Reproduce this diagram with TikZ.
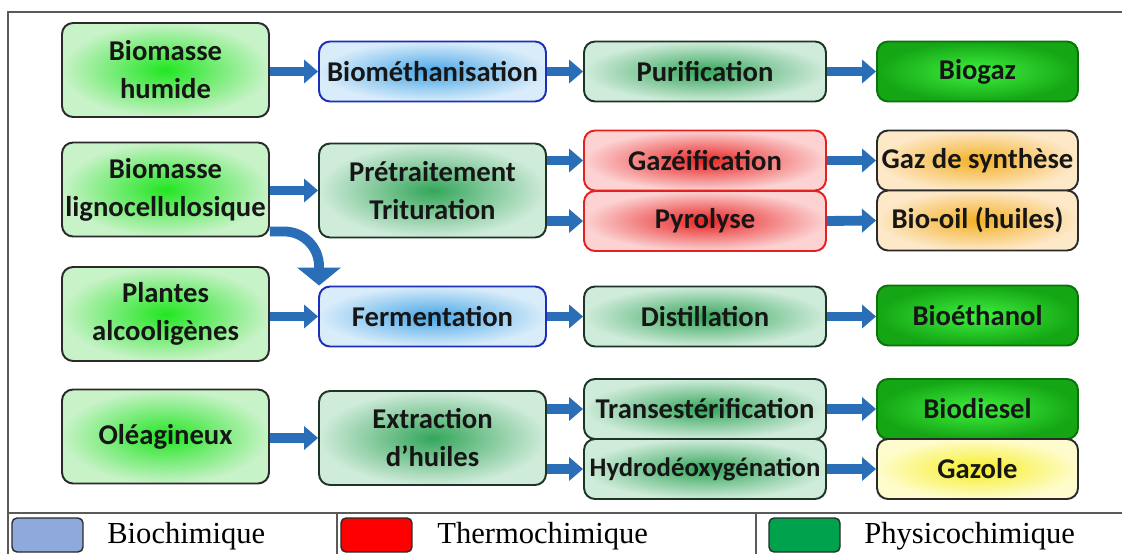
\documentclass[tikz,border=0pt]{standalone}
\usepackage{fontspec}
\setmainfont{Liberation Serif}
\newfontfamily\boxfont{Carlito}
\usetikzlibrary{arrows.meta}
\definecolor{flowblue}{HTML}{2A6EB8}
\definecolor{edgedark}{HTML}{2A2A2A}
\definecolor{txtdark}{HTML}{161616}
\definecolor{srcout}{HTML}{C8F2C8}
\definecolor{srcin}{HTML}{22E622}
\definecolor{bioout}{HTML}{D8ECFA}
\definecolor{bioin}{HTML}{49A6E6}
\definecolor{bioedge}{HTML}{1B2FB8}
\definecolor{physout}{HTML}{CFEBDA}
\definecolor{physin}{HTML}{34A65A}
\definecolor{physedge}{HTML}{1D3526}
\definecolor{thermout}{HTML}{FCD2D2}
\definecolor{thermin}{HTML}{E82424}
\definecolor{thermedge}{HTML}{E42020}
\definecolor{oilout}{HTML}{FDE8C8}
\definecolor{oilin}{HTML}{F4B024}
\definecolor{fuelout}{HTML}{14A614}
\definecolor{fuelin}{HTML}{40F040}
\definecolor{fueledge}{HTML}{0C720C}
\definecolor{lemonout}{HTML}{FEFCCC}
\definecolor{lemonin}{HTML}{F6EE24}
\definecolor{framegray}{HTML}{5A5A5A}
\definecolor{legblue}{HTML}{8EA9DB}
\definecolor{legred}{HTML}{FF0000}
\definecolor{leggreen}{HTML}{00A24E}

\tikzset{
  box/.style={draw, rounded corners=0.22cm, line width=1.1pt, align=center,
    inner sep=0pt, text=txtdark,
    font=\boxfont\bfseries\fontsize{16.3}{21.6}\selectfont},
  tall/.style={minimum height=1.88cm},
  short/.style={minimum height=1.2cm},
  colA/.style={minimum width=4.14cm},
  colB/.style={minimum width=4.54cm},
  colC/.style={minimum width=4.84cm},
  colD/.style={minimum width=4.02cm},
  srcbox/.style={box, draw=edgedark, inner color=srcin, outer color=srcout},
  biobox/.style={box, draw=bioedge, inner color=bioin, outer color=bioout},
  physbox/.style={box, draw=physedge, inner color=physin, outer color=physout},
  thermbox/.style={box, draw=thermedge, inner color=thermin, outer color=thermout},
  oilbox/.style={box, draw=edgedark, inner color=oilin, outer color=oilout},
  fuelbox/.style={box, draw=fueledge, inner color=fuelin, outer color=fuelout},
  lemonbox/.style={box, draw=edgedark, inner color=lemonin, outer color=lemonout},
  flow/.style={draw=flowblue, line width=5.6pt,
    -{Triangle[length=0.28cm, width=0.46cm]}},
  bendflow/.style={draw=flowblue, line width=5.6pt, rounded corners=0.7cm,
    -{Triangle[length=0.36cm, width=0.86cm]}},
  frameline/.style={draw=framegray, line width=0.9pt},
  swatch/.style={draw=edgedark, line width=0.8pt, rounded corners=0.1cm,
    minimum width=1.42cm, minimum height=0.68cm, inner sep=0pt},
  keytext/.style={font=\fontsize{17.4}{20}\selectfont, inner sep=0pt, text=black}
}

\begin{document}
\begin{tikzpicture}[x=0.02cm, y=-0.02cm]
\useasboundingbox (0,0) rectangle (1122,554);
\fill[white] (0,0) rectangle (1122,554);

% frame and legend rule
\draw[frameline] (1122,12) -- (8,12) -- (8,554);
\draw[frameline] (8,513) -- (1122,513);
\draw[frameline] (337,513) -- (337,554);
\draw[frameline] (756,513) -- (756,554);

% --- biomasse humide ---
\node[srcbox, colA, tall] (humide) at (165.5,70) {Biomasse\\humide};
\node[biobox, colB, short] (methan) at (432.5,71.5) {Biométhanisation};
\node[physbox, colC, short] (purif) at (705,71.5) {Purification};
\node[fuelbox, colD, short] (biogaz) at (977.5,71.5) {Biogaz};

% --- biomasse lignocellulosique ---
\node[srcbox, colA, tall] (ligno) at (165.5,189.5) {Biomasse\\lignocellulosique};
\node[physbox, colB, tall] (pretr) at (432.5,190.5) {Prétraitement\\Trituration};
\node[thermbox, colC, short] (gazeif) at (705,160.5) {Gazéification};
\node[thermbox, colC, short] (pyro) at (705,221) {Pyrolyse};
\node[oilbox, colD, short] (syngas) at (977.5,160.5) {Gaz de synthèse};
\node[oilbox, colD, short] (biooil) at (977.5,220.5) {Bio-oil (huiles)};

% --- plantes alcooligenes ---
\node[srcbox, colA, tall] (plantes) at (165.5,314) {Plantes\\alcooligènes};
\node[biobox, colB, short] (ferm) at (432.5,316.5) {Fermentation};
\node[physbox, colC, short] (distil) at (705,316.5) {Distillation};
\node[fuelbox, colD, short] (ethanol) at (977.5,315.5) {Bioéthanol};

% --- oleagineux ---
\node[srcbox, colA, tall] (oleag) at (165.5,436.5) {Oléagineux};
\node[physbox, colB, tall] (extr) at (432.5,438) {Extraction\\d’huiles};
\node[physbox, colC, short] (transest) at (705,409) {Transestérification};
\node[physbox, colC, short, font=\boxfont\bfseries\fontsize{15.2}{20}\selectfont] (hydro) at (705,469) {Hydrodéoxygénation};
\node[fuelbox, colD, short] (diesel) at (977.5,409) {Biodiesel};
\node[lemonbox, colD, short] (gazole) at (977.5,469) {Gazole};

% arrows
\draw[flow] (humide.east |- methan) -- (methan.west);
\draw[flow] (methan.east) -- (purif.west);
\draw[flow] (purif.east) -- (biogaz.west);
\draw[flow] (ligno.east |- pretr) -- (pretr.west);
\draw[flow] (pretr.east |- gazeif) -- (gazeif.west);
\draw[flow] (pretr.east |- pyro) -- (pyro.west);
\draw[flow] (gazeif.east) -- (syngas.west);
\draw[flow] (pyro.east) -- (biooil.west);
\draw[bendflow] ([yshift=0.12cm]ligno.south east) -| ([xshift=0.02cm]ferm.north west);
\draw[flow] (plantes.east |- ferm) -- (ferm.west);
\draw[flow] (ferm.east) -- (distil.west);
\draw[flow] (distil.east) -- (distil.east -| ethanol.west);
\draw[flow] (oleag.east |- extr) -- (extr.west);
\draw[flow] (extr.east |- transest) -- (transest.west);
\draw[flow] (extr.east |- hydro) -- (hydro.west);
\draw[flow] (transest.east) -- (diesel.west);
\draw[flow] (hydro.east) -- (gazole.west);

% legend
\node[swatch, fill=legblue] (keybio) at (47.5,535) {};
\node[swatch, fill=legred] (keytherm) at (376.5,535) {};
\node[swatch, fill=leggreen] (keyphys) at (804.5,535) {};
\node[keytext, anchor=base west] (txtbio) at (107,543) {Biochimique};
\node[keytext, anchor=base west] (txttherm) at (437,543) {Thermochimique};
\node[keytext, anchor=base west] (txtphys) at (864,543) {Physicochimique};

\end{tikzpicture}
\end{document}
